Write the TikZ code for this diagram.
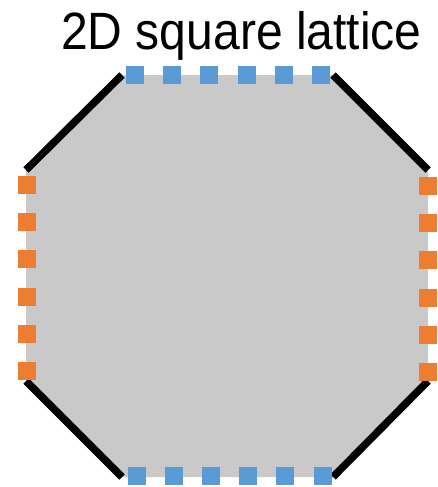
\documentclass[tikz,border=0pt]{standalone}
\usepackage{fontspec}
\setmainfont{Liberation Sans}
\definecolor{latgray}{HTML}{C9C9C9}
\definecolor{latblue}{HTML}{5B9BD5}
\definecolor{latorange}{HTML}{ED7D31}
\tikzset{
  edgeline/.style={line width=7.5pt, black, line cap=butt},
  sqb/.style={fill=latblue, draw=none},
  sqo/.style={fill=latorange, draw=none}
}
\begin{document}
\begin{tikzpicture}[x=1pt,y=-1pt]
\useasboundingbox (0,0) rectangle (438,487);
% octagon
\coordinate (t1) at (122,75);
\coordinate (t2) at (333,75);
\coordinate (r1) at (428,170);
\coordinate (r2) at (428,381);
\coordinate (b2) at (333,477);
\coordinate (b1) at (122,477);
\coordinate (l2) at (26,381);
\coordinate (l1) at (26,170);
\fill[latgray] (t1) -- (t2) -- (r1) -- (r2) -- (b2) -- (b1) -- (l2) -- (l1) -- cycle;
\draw[edgeline] (l1) -- (t1);
\draw[edgeline] (t2) -- (r1);
\draw[edgeline] (r2) -- (b2);
\draw[edgeline] (b1) -- (l2);
% squares
\foreach \i in {0,...,5}{
  \fill[sqb] ({135+37.2*\i-9},66) rectangle ++(18,18);
  \fill[sqb] ({137+37.1*\i-9},467) rectangle ++(18,18);
  \fill[sqo] (18,{185+37.2*\i-9}) rectangle ++(18,18);
  \fill[sqo] (418.5,{186+37.2*\i-9}) rectangle ++(18,18);
}
\node[anchor=base west, inner sep=0pt, font=\fontsize{52.5}{60}\selectfont] (title) at (61,50) {\scalebox{0.915}[1]{2D square lattice}};
\end{tikzpicture}
\end{document}
